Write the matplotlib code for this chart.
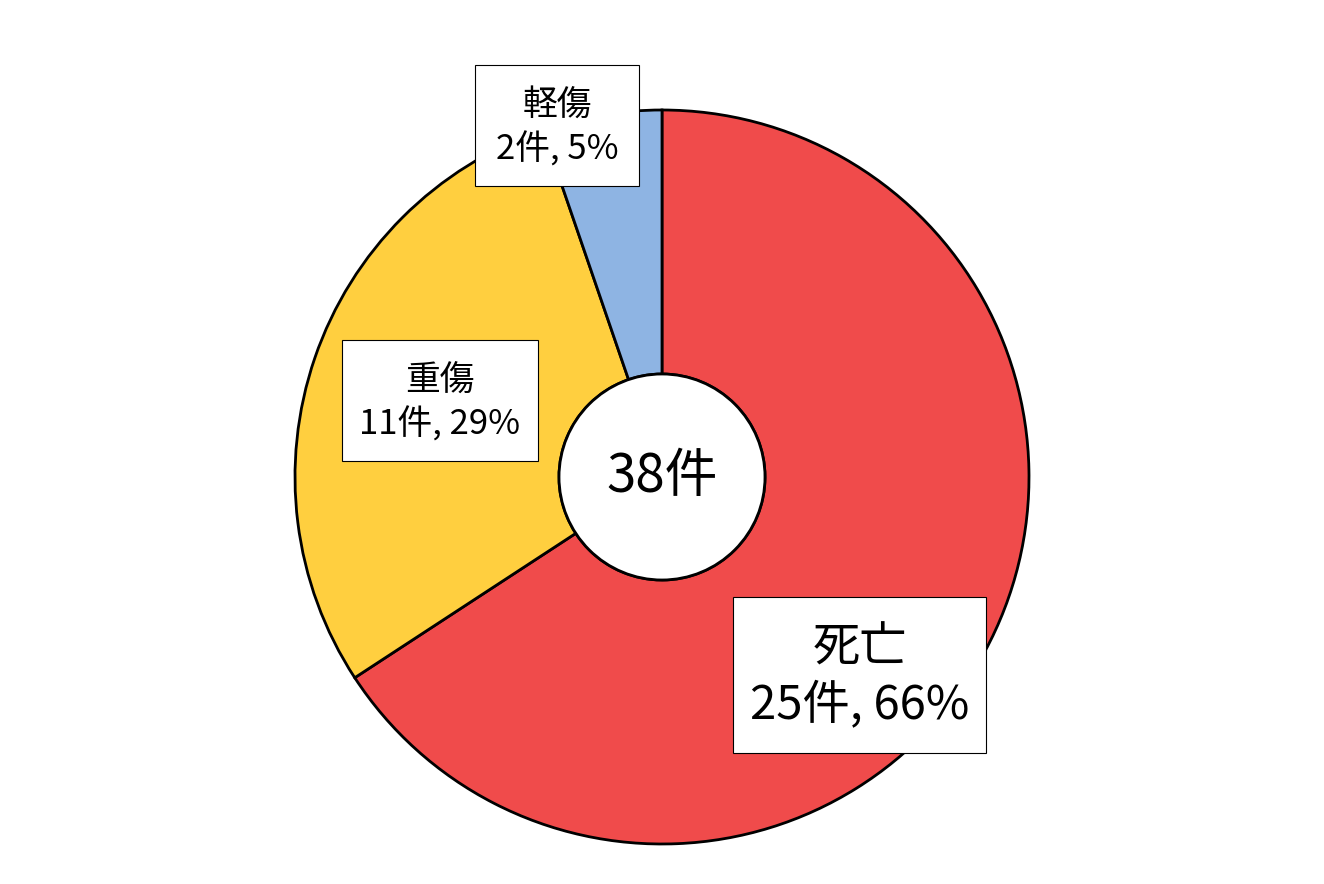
import matplotlib
matplotlib.use("Agg")
import matplotlib.pyplot as plt
from matplotlib.patches import Rectangle, Circle

plt.rcParams['font.family'] = ['Noto Sans CJK JP', 'DejaVu Sans']

categories = ['死亡', '重傷', '軽傷']
counts = [25, 11, 2]
percents = [66, 29, 5]
colors = ['#F04B4B', '#FFCF3F', '#8EB4E3']
total = sum(counts)

W, H = 1324, 884
CX, CY = 662, 477   # pie centre in pixels (from top-left)
R = 367              # outer radius in pixels


def px(x, y):
    # pixel position (top-left origin) -> data coords with radius 1
    return (x - CX) / R, (CY - y) / R


fig = plt.figure(figsize=(W / 100, H / 100), dpi=100)
ax = fig.add_axes([0, 0, 1, 1])

hole = 103 / R
ax.pie(counts, colors=colors, startangle=90, counterclock=False, radius=1,
       wedgeprops=dict(width=1 - hole, edgecolor='black', linewidth=2))
# pie() resets the limits, so set them afterwards
ax.set_xlim(-CX / R, (W - CX) / R)
ax.set_ylim(-(H - CY) / R, CY / R)
ax.set_aspect('equal')
ax.axis('off')

ax.add_patch(Circle((0, 0), hole, facecolor='white', edgecolor='black',
                    linewidth=2, zorder=3))
ax.text(0, 0, f'{total}件', ha='center', va='center', fontsize=38, zorder=4)

# label boxes: (left, top, right, bottom) in pixels, font size
boxes = [(733, 597, 986, 753, 34), (342, 340, 538, 461, 25), (475, 65, 639, 186, 25)]
for (l, t, r, b, fs), name, n, p in zip(boxes, categories, counts, percents):
    x0, y0 = px(l, b)
    x1, y1 = px(r, t)
    ax.add_patch(Rectangle((x0, y0), x1 - x0, y1 - y0, facecolor='white',
                           edgecolor='black', linewidth=0.8, zorder=5))
    xc = (x0 + x1) / 2
    h = y1 - y0
    ax.text(xc, y1 - h * 0.33, name, ha='center', va='center', fontsize=fs, zorder=6)
    ax.text(xc, y1 - h * 0.70, f'{n}件, {p}%', ha='center', va='center',
            fontsize=fs, zorder=6)

fig.savefig('out.png', dpi=100)
